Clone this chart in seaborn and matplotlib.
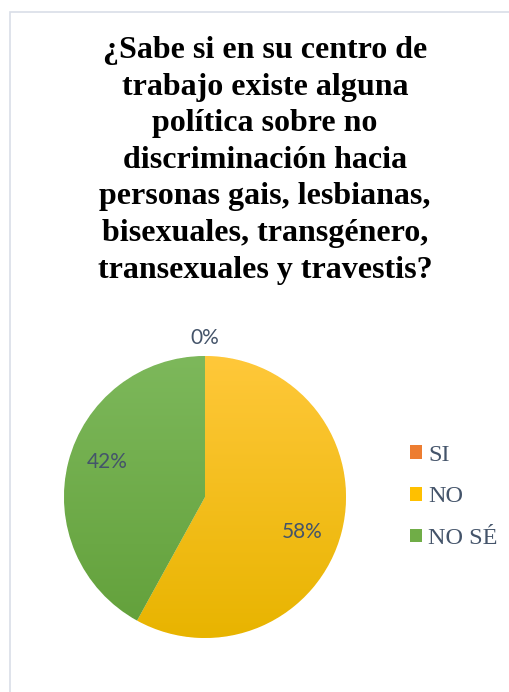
import numpy as np
import pandas as pd
import seaborn as sns
import matplotlib.pyplot as plt
from matplotlib.patches import Patch, Rectangle
from matplotlib.colors import LinearSegmentedColormap

# data
categories = ["SI", "NO", "NO SÉ"]
values = [0, 58, 42]
pct_labels = ["0%", "58%", "42%"]
title = ("¿Sabe si en su centro de\ntrabajo existe alguna\npolítica sobre no\n"
         "discriminación hacia\npersonas gais, lesbianas,\nbisexuales, transgénero,\n"
         "transexuales y travestis?")

df = pd.DataFrame({"categoria": categories, "valor": values, "etiqueta": pct_labels})

sns.set_theme(style="white")
plt.rcParams["font.family"] = ["Liberation Serif", "DejaVu Serif"]

# top / bottom colours for the gradient fill of each slice
top_cols = ["#F4955A", "#FFC83A", "#7DB85B"]
bot_cols = ["#E0701F", "#E8B400", "#62A03A"]
palette = sns.color_palette(["#ED7D31", "#FFC000", "#70AD47"])

W, H = 510, 692
fig = plt.figure(figsize=(W / 100, H / 100), dpi=100)

# chart frame
fig.patches.append(Rectangle((10 / W, -0.1), 1.2, (692 - 12) / H + 0.1,
                             transform=fig.transFigure, fill=False,
                             edgecolor="#D9DEE8", linewidth=1.2))

fig.text(265 / W, 1 - 36 / H, title, ha="center", va="top", fontsize=23,
         fontweight="bold", color="black", linespacing=1.345)

cx, cy, r = 205, 497, 141
ax = fig.add_axes([(cx - r) / W, 1 - (cy + r) / H, 2 * r / W, 2 * r / H])
wedges, _ = ax.pie(df["valor"], colors=palette, startangle=90, counterclock=False,
                   radius=1, wedgeprops=dict(linewidth=0.6, edgecolor="white"))
ax.set_xlim(-1, 1)
ax.set_ylim(-1, 1)
ax.set_aspect("equal")
ax.axis("off")

# gradient fill clipped to each wedge
yy = np.linspace(1, 0, 256).reshape(-1, 1)
for w, t, b in zip(wedges, top_cols, bot_cols):
    if w.theta2 - w.theta1 <= 0:
        continue
    cmap = LinearSegmentedColormap.from_list("g", [b, t])
    im = ax.imshow(np.repeat(yy, 2, axis=1), cmap=cmap, extent=(-1, 1, -1, 1),
                   origin="upper", aspect="auto", zorder=w.get_zorder() + 0.1)
    im.set_clip_path(w)

# data labels
for w, lab, v in zip(wedges, df["etiqueta"], df["valor"]):
    if v > 0:
        ang = np.deg2rad((w.theta1 + w.theta2) / 2 - 5.5)
        dist = 0.735
    else:
        ang = np.deg2rad(w.theta1)
        dist = 1.13
    ax.text(dist * np.cos(ang), dist * np.sin(ang), lab, ha="center", va="center",
            fontsize=15, color="#44546A", family=["Lato", "DejaVu Sans"], zorder=5)

handles = [Patch(facecolor=c, edgecolor="none") for c in palette]
fig.legend(handles, categories, loc="center left", bbox_to_anchor=(410 / W, 1 - 497 / H),
           frameon=False, fontsize=17.5, labelcolor="#44546A", handlelength=0.5,
           handleheight=0.5, handletextpad=0.25, labelspacing=0.85, borderpad=0,
           borderaxespad=0)

fig.savefig("out.png", dpi=100)
